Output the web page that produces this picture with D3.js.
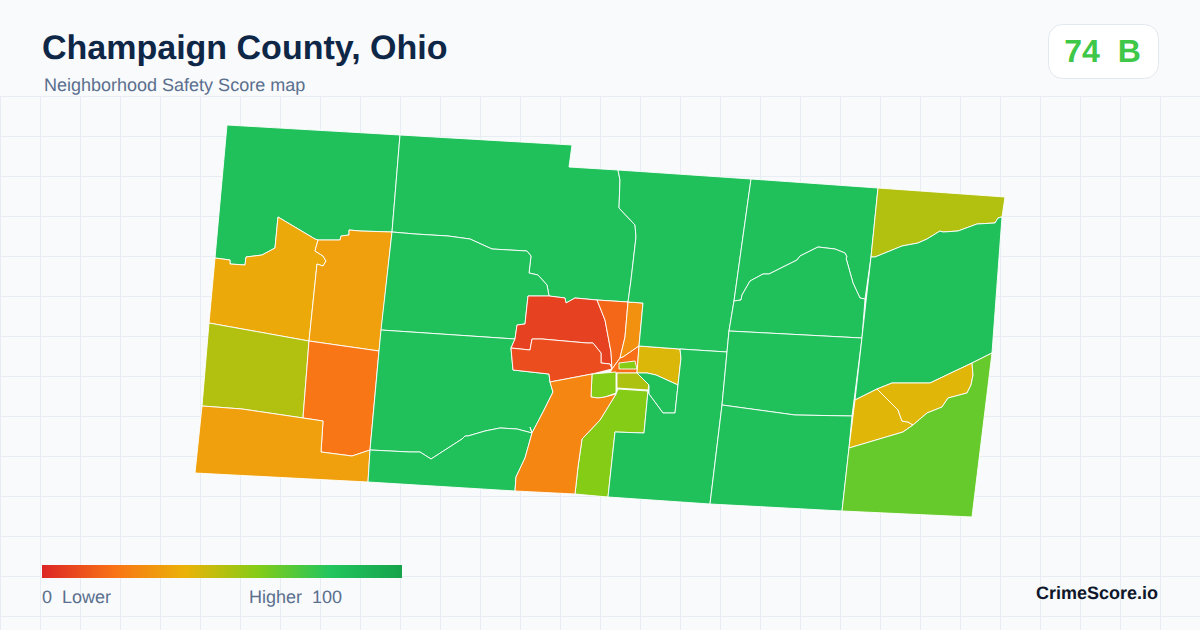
<!DOCTYPE html>
<html>
<head>
<meta charset="utf-8">
<title>Champaign County, Ohio</title>
<script src="https://cdn.jsdelivr.net/npm/d3@7"></script>
<style>
  html, body { margin: 0; padding: 0; background: #f8fafc; }
  svg { display: block; font-family: "Liberation Sans", Arial, sans-serif; text-rendering: geometricPrecision; }
</style>
</head>
<body>
<svg id="chart" width="1200" height="630"></svg>
<script>
(function() {

  var titleText = 'Champaign County, Ohio';
  var subtitleText = 'Neighborhood Safety Score map';
  var overallScore = 74;
  var overallGrade = 'B';
  var brandText = 'CrimeScore.io';

  // legend ramp: score -> colour
  var rampStops = [0, 20, 40, 60, 80, 100];
  var rampColors = ['#dc2626', '#f97316', '#eab308', '#84cc16', '#22c55e', '#16a34a'];

  // tract scores, same order as tractRings
  var tractScores = [
    83, 37, 34, 51, 21, 34,
    83, 83, 83, 83,
    7, 10, 17, 29, 19, 60,
    43, 60, 52, 60, 26,
    83, 83, 83, 83, 83, 83, 83,
    51, 83, 42, 42, 66
  ];

  // tract outlines, in map units
  var tractRings = [
    [[227,125],[400,135],[392,232],[360,231],[349,230],[349,235],[341,236],[340,240],[318,240],[315,239],[278,217],[275,248],[262,255],[246,257],[245,265],[230,264],[230,260],[215,258]],
    [[215,258],[230,260],[230,264],[245,265],[246,257],[262,255],[275,248],[278,217],[315,239],[318,240],[315,251],[323,256],[326,261],[323,266],[317,264],[309,341],[209,323]],
    [[318,240],[340,240],[341,236],[349,235],[349,230],[360,231],[392,232],[379,351],[309,341],[317,264],[323,266],[326,261],[323,256],[315,251]],
    [[209,323],[309,341],[303,418],[242,409],[202,406]],
    [[309,341],[379,351],[370,450],[352,456],[321,452],[323,421],[303,418]],
    [[202,406],[242,409],[303,418],[323,421],[321,452],[352,456],[370,450],[368,482],[195,473]],
    [[400,135],[572,145],[569,167],[618,170],[620,180],[619,208],[635,225],[636,237],[631,280],[628,302],[597,300],[575,298],[566,303],[565,298],[549,296],[547,285],[538,275],[529,273],[531,256],[527,251],[492,249],[470,239],[448,236],[415,234],[392,232]],
    [[392,232],[415,234],[448,236],[470,239],[492,249],[527,251],[531,256],[529,273],[538,275],[547,285],[549,296],[528,296],[525,324],[517,325],[515,339],[381,330]],
    [[381,330],[515,339],[511,348],[513,370],[549,374],[550,382],[553,392],[543,412],[532,433],[530,427],[532,433],[517,429],[500,428],[485,431],[468,436],[465,436],[462,439],[431,459],[420,452],[410,452],[370,450],[379,351]],
    [[370,450],[410,452],[420,452],[431,459],[462,439],[465,436],[468,436],[485,431],[500,428],[517,429],[532,433],[525,458],[516,477],[515,491],[368,482]],
    [[528,296],[549,296],[565,298],[566,303],[575,298],[597,300],[605,320],[611,352],[612,369],[610,364],[601,363],[601,353],[593,343],[587,343],[542,339],[532,339],[530,350],[511,348],[515,339],[517,325],[525,324]],
    [[511,348],[530,350],[532,339],[542,339],[587,343],[593,343],[601,353],[601,363],[610,364],[612,369],[592,374],[550,382],[549,374],[513,370]],
    [[597,300],[628,302],[625,337],[620,358],[612,369],[611,352],[605,320]],
    [[628,302],[643,303],[639,346],[623,357],[620,358],[625,337]],
    [[612,369],[620,358],[623,357],[639,346],[637,373],[610,373]],
    [[619,363],[635,361],[637,369],[619,369]],
    [[639,346],[680,349],[681,358],[678,385],[656,375],[647,373],[637,373]],
    [[592,374],[616,372],[616,393],[605,397],[598,398],[591,397]],
    [[617,373],[637,373],[649,385],[648,390],[617,388]],
    [[618,389],[648,391],[644,433],[615,432],[608,497],[575,494],[578,467],[582,439],[600,420],[616,394]],
    [[550,382],[592,374],[591,397],[598,398],[605,397],[616,394],[600,420],[582,439],[578,467],[575,494],[515,491],[516,477],[525,458],[532,433],[543,412],[553,392]],
    [[618,170],[751,179],[734,301],[729,331],[727,352],[680,349],[639,346],[643,303],[628,302],[631,280],[636,237],[635,225],[619,208],[620,180]],
    [[637,373],[647,373],[656,375],[678,385],[675,413],[663,413],[649,394],[649,385]],
    [[680,349],[727,352],[722,405],[710,504],[608,497],[615,432],[644,433],[648,391],[649,394],[663,413],[675,413],[678,385],[681,358]],
    [[751,179],[878,188],[871,257],[865,299],[860,298],[853,283],[846,258],[847,257],[845,253],[835,249],[818,247],[800,256],[797,260],[769,274],[763,274],[750,281],[742,295],[741,300],[734,301]],
    [[734,301],[741,300],[742,295],[750,281],[763,274],[769,274],[797,260],[800,256],[818,247],[835,249],[845,253],[847,257],[846,258],[853,283],[860,298],[865,299],[862,338],[729,331]],
    [[729,331],[862,338],[852,416],[795,415],[722,405],[727,352]],
    [[722,405],[795,415],[852,416],[849,448],[842,511],[710,504]],
    [[878,188],[1005,197],[1002,217],[998,218],[995,223],[977,224],[958,231],[943,232],[940,231],[927,239],[918,243],[902,246],[875,257],[871,257]],
    [[871,257],[875,257],[902,246],[918,243],[927,239],[940,231],[943,232],[958,231],[977,224],[995,223],[998,218],[1002,217],[992,353],[972,363],[953,372],[930,383],[892,383],[877,389],[855,400]],
    [[855,400],[877,389],[888,400],[898,410],[902,421],[908,422],[913,425],[903,432],[849,448]],
    [[877,389],[892,383],[930,383],[953,372],[972,363],[973,375],[971,385],[967,393],[948,398],[942,407],[927,413],[913,425],[908,422],[902,421],[898,410],[888,400]],
    [[992,353],[972,363],[973,375],[971,385],[967,393],[948,398],[942,407],[927,413],[913,425],[903,432],[849,448],[842,511],[972,517]]
  ];

  var width = 1200, height = 630;
  var svg = d3.select('#chart');

  var color = d3.scaleLinear().domain(rampStops).range(rampColors).clamp(true);

  // background and grid
  svg.append('rect').attr('width', width).attr('height', height).attr('fill', '#f8fafc');

  var grid = svg.append('g').attr('stroke', '#e8edf4').attr('stroke-width', 1);
  grid.selectAll('line.v').data(d3.range(0, width + 1, 40)).enter().append('line')
    .attr('class', 'v')
    .attr('x1', function(d) { return d + 0.5; }).attr('x2', function(d) { return d + 0.5; })
    .attr('y1', 96).attr('y2', height);
  grid.selectAll('line.h').data(d3.range(96, height, 40)).enter().append('line')
    .attr('class', 'h')
    .attr('x1', 0).attr('x2', width)
    .attr('y1', function(d) { return d + 0.5; }).attr('y2', function(d) { return d + 0.5; });

  // map
  var x = d3.scaleLinear().domain([195, 1005]).range([195, 1005]);
  var y = d3.scaleLinear().domain([125, 517]).range([125, 517]);
  var ring = d3.line()
    .x(function(d) { return x(d[0]); })
    .y(function(d) { return y(d[1]); })
    .curve(d3.curveLinearClosed);

  svg.append('g').selectAll('path').data(tractRings).enter().append('path')
    .attr('d', ring)
    .attr('fill', function(d, i) { return color(tractScores[i]); })
    .attr('stroke', '#ffffff')
    .attr('stroke-width', 0.9)
    .attr('stroke-linejoin', 'round');

  // header
  svg.append('text').attr('x', 42).attr('y', 59)
    .attr('font-size', 34).attr('font-weight', 700).attr('fill', '#0f2747')
    .text(titleText);
  svg.append('text').attr('x', 44).attr('y', 91)
    .attr('font-size', 18).attr('fill', '#5b6f8e')
    .text(subtitleText);

  // score badge
  svg.append('rect').attr('x', 1048.5).attr('y', 24.5).attr('width', 110).attr('height', 54).attr('rx', 14)
    .attr('fill', '#ffffff').attr('stroke', '#e2e8f0');
  svg.append('text').attr('x', 1102.5).attr('y', 62).attr('text-anchor', 'middle')
    .attr('font-size', 32).attr('font-weight', 700).attr('fill', color(overallScore))
    .style('white-space', 'pre')
    .text(overallScore + '  ' + overallGrade);

  // legend
  var legendX = d3.scaleLinear().domain([0, 100]).range([42, 402]);
  var defs = svg.append('defs');
  var grad = defs.append('linearGradient').attr('id', 'ramp');
  grad.selectAll('stop').data(rampStops).enter().append('stop')
    .attr('offset', function(d) { return d + '%'; })
    .attr('stop-color', function(d) { return color(d); });
  svg.append('rect')
    .attr('x', legendX(0)).attr('y', 565)
    .attr('width', legendX(100) - legendX(0)).attr('height', 13)
    .attr('fill', 'url(#ramp)');

  svg.append('text').attr('x', 42).attr('y', 603)
    .attr('font-size', 18).attr('fill', '#5b6f8e').style('white-space', 'pre')
    .text('0  Lower');
  svg.append('text').attr('x', 342).attr('y', 603).attr('text-anchor', 'end')
    .attr('font-size', 18).attr('fill', '#5b6f8e').style('white-space', 'pre')
    .text('Higher  100');

  svg.append('text').attr('x', 1158).attr('y', 599).attr('text-anchor', 'end')
    .attr('font-size', 18).attr('font-weight', 700).attr('fill', '#0f172a')
    .text(brandText);

}).call(this);
</script>
</body>
</html>
